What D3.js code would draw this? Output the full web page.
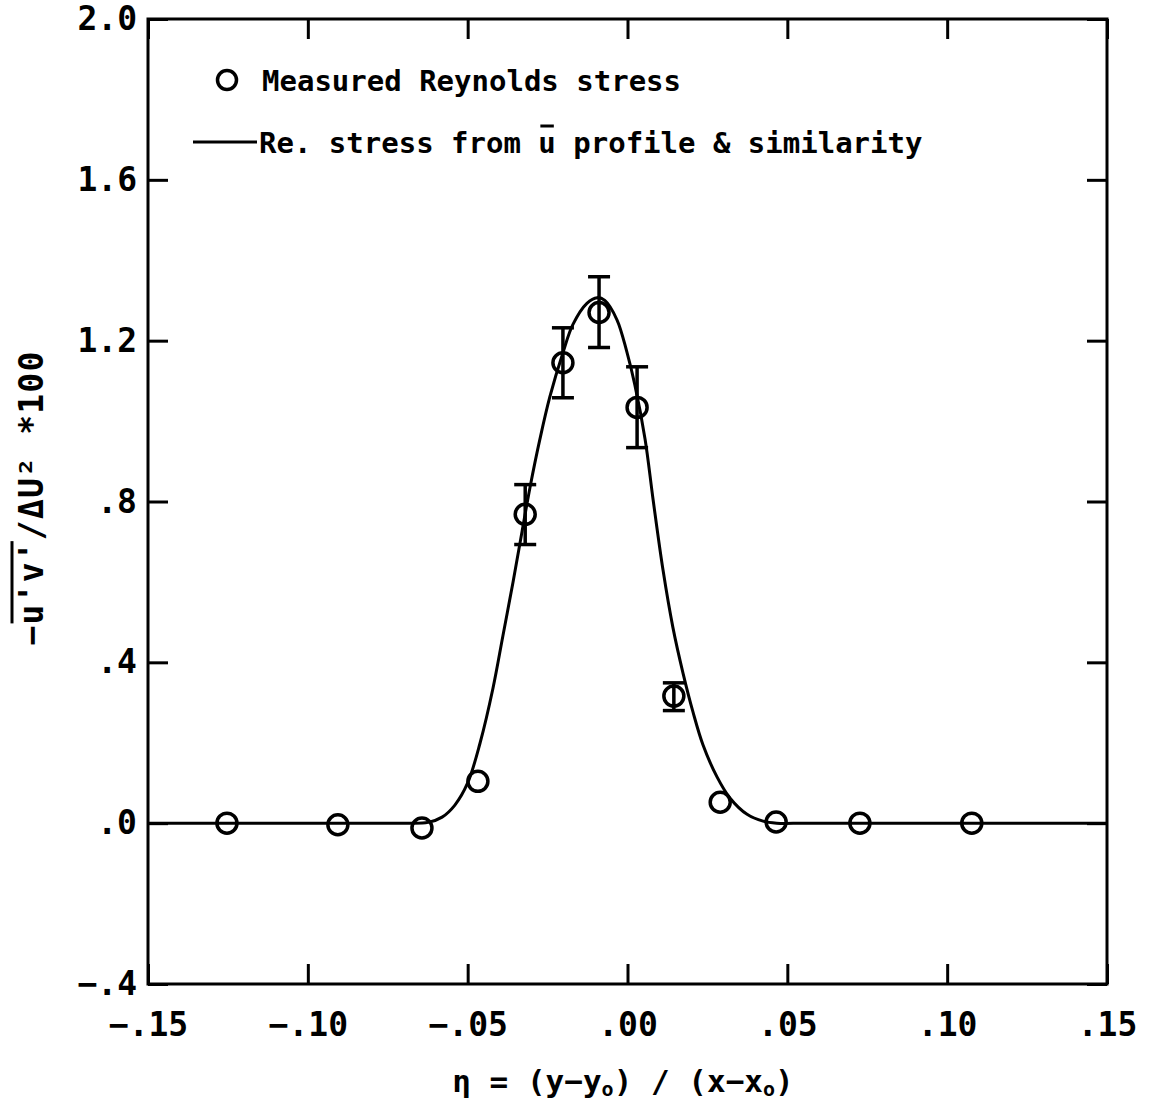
<!DOCTYPE html>
<html>
<head>
<meta charset="utf-8">
<script src="https://cdn.jsdelivr.net/npm/d3@7"></script>
<style>
  html, body { margin: 0; padding: 0; background: #fff; }
  svg { display: block; }
  text { font-family: "DejaVu Sans Mono", "Liberation Mono", monospace; fill: #000; }
</style>
</head>
<body>
<svg id="chart" width="1152" height="1106"></svg>
<script>
// Measured Reynolds stress (circles) with error bars where measured
const etaMeasured    = [-0.1253, -0.0906, -0.0643, -0.0468, -0.0320, -0.0202, -0.0089, 0.0030, 0.0145, 0.0290, 0.0465, 0.0727, 0.1077];
const stressMeasured = [0.000, -0.004, -0.012, 0.104, 0.768, 1.145, 1.270, 1.034, 0.316, 0.052, 0.003, 0.000, 0.000];
const errLow         = [null, null, null, null, 0.693, 1.058, 1.183, 0.934, 0.280, null, null, null, null];
const errHigh        = [null, null, null, null, 0.842, 1.232, 1.359, 1.135, 0.349, null, null, null, null];

// Reynolds stress derived from the mean velocity profile and similarity
const etaCurve    = [-0.150, -0.1000, -0.0800, -0.0700, -0.0624, -0.0580, -0.0540, -0.0500, -0.0461, -0.0421, -0.0390, -0.0358, -0.0330,
                     -0.0305, -0.0274, -0.0243, -0.0202, -0.0171, -0.0127, -0.0095, -0.0071, -0.0033, -0.0002,
                     0.0023, 0.0055, 0.0080, 0.0111, 0.0142, 0.0174, 0.0205, 0.0236, 0.0280, 0.0321, 0.0374,
                     0.0424, 0.0467, 0.0550, 0.0700, 0.1000, 0.150];
const stressCurve = [0.000, 0.000, 0.000, 0.000, 0.002, 0.015, 0.045, 0.100, 0.200, 0.335, 0.465, 0.600, 0.725,
                     0.835, 0.955, 1.060, 1.170, 1.240, 1.293, 1.307, 1.300, 1.252, 1.172,
                     1.090, 0.955, 0.805, 0.630, 0.487, 0.372, 0.276, 0.195, 0.115, 0.062, 0.022,
                     0.005, 0.000, 0.000, 0.000, 0.000, 0.000];

// Axis ticks and their labels
const xTicks      = [-0.15, -0.10, -0.05, 0.00, 0.05, 0.10, 0.15];
const xTickLabels = ["\u2212.15", "\u2212.10", "\u2212.05", ".00", ".05", ".10", ".15"];
const yTicks      = [-0.4, 0.0, 0.4, 0.8, 1.2, 1.6, 2.0];
const yTickLabels = ["\u2212.4", ".0", ".4", ".8", "1.2", "1.6", "2.0"];

const legendLabels = ["Measured Reynolds stress", "Re. stress from u profile & similarity"];

const svg = d3.select("#chart");
const plotLeft = 148, plotRight = 1107, plotTop = 19, plotBottom = 984;

const x = d3.scaleLinear().domain([-0.15, 0.15]).range([plotLeft, plotRight]);
const y = d3.scaleLinear().domain([-0.4, 2.0]).range([plotBottom, plotTop]);

const STROKE = 3;
const TICK = 20;

// Axes with inward ticks on all four sides
function styleAxis(g) {
  g.select(".domain").remove();
  g.selectAll(".tick line").attr("stroke", "#000").attr("stroke-width", STROKE);
}

svg.append("g")
  .attr("transform", `translate(0,${plotBottom})`)
  .call(d3.axisBottom(x).tickValues(xTicks).tickSize(-TICK).tickPadding(29)
    .tickFormat((d, i) => xTickLabels[i]))
  .call(styleAxis)
  .call(g => g.selectAll(".tick text").attr("font-size", 33).attr("font-weight", "bold")
    .attr("font-family", "DejaVu Sans Mono").attr("fill", "#000").attr("dy", "0.71em"));

svg.append("g")
  .attr("transform", `translate(0,${plotTop})`)
  .call(d3.axisTop(x).tickValues(xTicks).tickSize(-TICK).tickFormat(""))
  .call(styleAxis);

svg.append("g")
  .attr("transform", `translate(${plotLeft},0)`)
  .call(d3.axisLeft(y).tickValues(yTicks).tickSize(-TICK).tickPadding(11)
    .tickFormat((d, i) => yTickLabels[i]))
  .call(styleAxis)
  .call(g => g.selectAll(".tick text").attr("font-size", 33).attr("font-weight", "bold")
    .attr("font-family", "DejaVu Sans Mono").attr("fill", "#000"));

svg.append("g")
  .attr("transform", `translate(${plotRight},0)`)
  .call(d3.axisRight(y).tickValues(yTicks).tickSize(-TICK).tickFormat(""))
  .call(styleAxis);

// Plot frame
svg.append("rect")
  .attr("x", plotLeft).attr("y", plotTop)
  .attr("width", plotRight - plotLeft).attr("height", plotBottom - plotTop)
  .attr("fill", "none").attr("stroke", "#000").attr("stroke-width", STROKE);

// Derived stress curve
const curveData = etaCurve.map((e, i) => [e, stressCurve[i]]);
svg.append("path")
  .datum(curveData)
  .attr("fill", "none")
  .attr("stroke", "#000")
  .attr("stroke-width", STROKE)
  .attr("stroke-linejoin", "round")
  .attr("d", d3.line().x(d => x(d[0])).y(d => y(d[1])).curve(d3.curveCatmullRom.alpha(0.5)));

// Error bars
const measured = etaMeasured.map((e, i) => ({ eta: e, v: stressMeasured[i], lo: errLow[i], hi: errHigh[i] }));
const withErr = measured.filter(d => d.lo !== null);
const CAP = 11;
const eb = svg.append("g").attr("stroke", "#000").attr("stroke-width", 3.5);
eb.selectAll("line.stem").data(withErr).join("line").attr("class", "stem")
  .attr("x1", d => x(d.eta)).attr("x2", d => x(d.eta))
  .attr("y1", d => y(d.lo)).attr("y2", d => y(d.hi));
eb.selectAll("line.capHi").data(withErr).join("line").attr("class", "capHi")
  .attr("x1", d => x(d.eta) - CAP).attr("x2", d => x(d.eta) + CAP)
  .attr("y1", d => y(d.hi)).attr("y2", d => y(d.hi));
eb.selectAll("line.capLo").data(withErr).join("line").attr("class", "capLo")
  .attr("x1", d => x(d.eta) - CAP).attr("x2", d => x(d.eta) + CAP)
  .attr("y1", d => y(d.lo)).attr("y2", d => y(d.lo));

// Measured points
svg.append("g").selectAll("circle").data(measured).join("circle")
  .attr("cx", d => x(d.eta)).attr("cy", d => y(d.v)).attr("r", 10)
  .attr("fill", "none").attr("stroke", "#000").attr("stroke-width", 3.5);

// Legend
const legend = svg.append("g");
legend.append("circle").attr("cx", 227).attr("cy", 80).attr("r", 9.5)
  .attr("fill", "none").attr("stroke", "#000").attr("stroke-width", 3.5);
legend.append("text").attr("x", 262).attr("y", 91)
  .attr("font-size", 29).attr("font-weight", "bold").text(legendLabels[0]);
legend.append("line").attr("x1", 193).attr("x2", 257).attr("y1", 142).attr("y2", 142)
  .attr("stroke", "#000").attr("stroke-width", STROKE);
const leg2 = legend.append("text").attr("x", 259).attr("y", 153)
  .attr("font-size", 29).attr("font-weight", "bold").text(legendLabels[1]);
// bar over the "u" (mean velocity)
{
  const idx = legendLabels[1].indexOf(" u ") + 1;
  const node = leg2.node();
  const x0 = 259 + node.getSubStringLength(0, idx);
  const w = node.getSubStringLength(idx, 1);
  legend.append("line").attr("x1", x0 + 2).attr("x2", x0 + w - 2)
    .attr("y1", 153 - 27).attr("y2", 153 - 27)
    .attr("stroke", "#000").attr("stroke-width", STROKE);
}

// X axis title: eta = (y - y0) / (x - x0)
const xt = svg.append("text").attr("x", 623).attr("y", 1092)
  .attr("text-anchor", "middle").attr("font-size", 31).attr("font-weight", "bold");
xt.append("tspan").text("\u03b7 = (y\u2212y");
xt.append("tspan").attr("font-size", 20).attr("dy", 4).text("o");
xt.append("tspan").attr("dy", -4).text(") / (x\u2212x");
xt.append("tspan").attr("font-size", 20).attr("dy", 4).text("o");
xt.append("tspan").attr("dy", -4).text(")");

// Y axis title: -u'v'/ΔU² *100 with an overline across u'v'
const yg = svg.append("g").attr("transform", "translate(43,498) rotate(-90)");
const yStr = "\u2212u'v'/\u0394U\u00b2 *100";
const yt = yg.append("text").attr("x", 0).attr("y", 0)
  .attr("text-anchor", "middle").attr("font-size", 33).attr("font-weight", "bold")
  .attr("letter-spacing", 1.2).text(yStr);
{
  const node = yt.node();
  const total = node.getComputedTextLength();
  const start = -total / 2;
  const a = start + node.getSubStringLength(0, 1);
  const b = start + node.getSubStringLength(0, 5);
  yg.append("line").attr("x1", a + 1).attr("x2", b - 1)
    .attr("y1", -31).attr("y2", -31)
    .attr("stroke", "#000").attr("stroke-width", STROKE);
}
</script>
</body>
</html>
